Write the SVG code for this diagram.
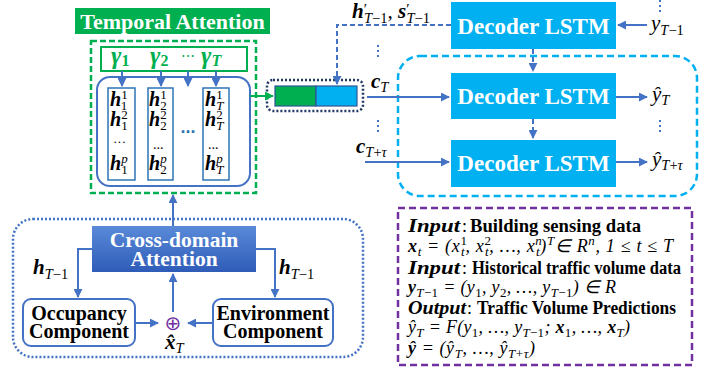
<svg xmlns="http://www.w3.org/2000/svg" width="715" height="373" viewBox="0 0 715 373">
<style>
.ser{font-family:"Liberation Serif","Times New Roman",serif}
.wb{font-family:"Liberation Serif",serif;font-weight:bold;fill:#fff}
.bk{font-family:"Liberation Serif",serif;font-weight:bold;fill:#000}
.m{font-family:"Liberation Serif",serif;font-style:italic;fill:#000}
.bi{font-weight:bold;font-style:italic}
.n{font-style:normal}
.conn{stroke:#4472C4;stroke-width:2;fill:none}
.dash{stroke-dasharray:5,3}
.sub{font-size:13px}
.lab .sub{font-size:14.5px}
</style>
<defs>
<marker id="ab" viewBox="0 0 10 10" refX="9" refY="5" markerWidth="4.5" markerHeight="4.5" orient="auto"><path d="M0,0 L10,5 L0,10 z" fill="#4472C4"/></marker>
<marker id="ag" viewBox="0 0 10 10" refX="9" refY="5" markerWidth="4.5" markerHeight="4.5" orient="auto"><path d="M0,0 L10,5 L0,10 z" fill="#00B050"/></marker>
<linearGradient id="gcd" x1="0" y1="0" x2="0" y2="1"><stop offset="0" stop-color="#5A8AD8"/><stop offset="1" stop-color="#2E5CB8"/></linearGradient>
</defs>
<rect width="715" height="373" fill="#fff"/>

<!-- Temporal attention -->
<g id="temporal-title">
<rect x="75" y="8" width="195" height="26" fill="#00B050"/>
<text class="wb" x="172.5" y="29" font-size="22" text-anchor="middle">Temporal Attention</text>
</g>
<g id="temporal-attention">
<rect x="91" y="41" width="165" height="152" fill="none" stroke="#00B050" stroke-width="2.5" stroke-dasharray="6,3"/>
</g>
<g id="gamma" class="ser" fill="#00B050" font-weight="bold">
<rect x="101" y="47" width="146" height="24" fill="none" stroke="#00B050" stroke-width="2"/>
<text x="111" y="64" font-size="25" font-style="italic">γ<tspan font-size="16" font-style="normal" dy="2">1</tspan></text>
<text x="150" y="64" font-size="25" font-style="italic">γ<tspan font-size="16" font-style="normal" dy="2">2</tspan></text>
<text x="181" y="61" font-size="14" font-weight="normal" fill="#00B050">⋯</text>
<text x="201" y="64" font-size="25" font-style="italic">γ<tspan font-size="16" dy="2">T</tspan></text>
</g>
<g id="hidden-states">
<rect x="97" y="77" width="153" height="109" rx="13" fill="none" stroke="#4472C4" stroke-width="2"/>
<rect x="108" y="88" width="27" height="92" fill="#fff" stroke="#2E75B6" stroke-width="1.5"/>
<rect x="148" y="88" width="25" height="92" fill="#fff" stroke="#2E75B6" stroke-width="1.5"/>
<rect x="203" y="88" width="26" height="92" fill="#fff" stroke="#2E75B6" stroke-width="1.5"/>
<g class="m" font-size="20">
<text x="110" y="106"><tspan class="bi">h</tspan><tspan class="n sub" dy="-7">1</tspan><tspan class="n sub" dx="-6.5" dy="11">1</tspan></text>
<text x="110" y="126"><tspan class="bi">h</tspan><tspan class="n sub" dy="-7">2</tspan><tspan class="n sub" dx="-6.5" dy="11">1</tspan></text>
<text x="113" y="146" font-size="13" class="n">···</text>
<text x="110" y="170"><tspan class="bi">h</tspan><tspan class="sub" dy="-7">p</tspan><tspan class="n sub" dx="-6.5" dy="11">1</tspan></text>

<text x="149" y="106"><tspan class="bi">h</tspan><tspan class="n sub" dy="-7">1</tspan><tspan class="n sub" dx="-6.5" dy="11">2</tspan></text>
<text x="149" y="126"><tspan class="bi">h</tspan><tspan class="n sub" dy="-7">2</tspan><tspan class="n sub" dx="-6.5" dy="11">2</tspan></text>
<text x="153" y="149" font-size="14" class="n">...</text>
<text x="149" y="170"><tspan class="bi">h</tspan><tspan class="sub" dy="-7">p</tspan><tspan class="n sub" dx="-6.5" dy="11">2</tspan></text>

<text x="205" y="106"><tspan class="bi">h</tspan><tspan class="n sub" dy="-7">1</tspan><tspan class="sub" dx="-6.5" dy="11">T</tspan></text>
<text x="205" y="126"><tspan class="bi">h</tspan><tspan class="n sub" dy="-7">2</tspan><tspan class="sub" dx="-6.5" dy="11">T</tspan></text>
<text x="208" y="149" font-size="14" class="n">...</text>
<text x="205" y="170"><tspan class="bi">h</tspan><tspan class="sub" dy="-7">p</tspan><tspan class="sub" dx="-6.5" dy="11">T</tspan></text>
</g>
<text x="188" y="133" font-family="Liberation Sans,sans-serif" font-size="18" font-weight="bold" fill="#2E75B6" text-anchor="middle">...</text>
</g>

<!-- context vector -->
<g id="context-vector">
<rect x="267" y="80" width="96" height="31" rx="6" fill="none" stroke="#203864" stroke-width="2.5" stroke-dasharray="2,2"/>
<rect x="275" y="86" width="41" height="20" fill="#00B050" stroke="#2F5597" stroke-width="1.2"/>
<rect x="316" y="86" width="41" height="20" fill="#00B0F0" stroke="#2F5597" stroke-width="1.2"/>
</g>

<!-- Decoders -->
<g id="decoder-group">
<rect x="398" y="56" width="299" height="140" rx="22" fill="none" stroke="#00B0F0" stroke-width="2.5" stroke-dasharray="7,4"/>
</g>
<g id="decoder1">
<rect x="451" y="2" width="165" height="47" fill="#00B0F0"/>
<text class="wb" x="533.5" y="34" font-size="23" text-anchor="middle">Decoder LSTM</text>
</g>
<g id="decoder2">
<rect x="451" y="73" width="165" height="46" fill="#00B0F0"/>
<text class="wb" x="533.5" y="104" font-size="23" text-anchor="middle">Decoder LSTM</text>
</g>
<g id="decoder3">
<rect x="451" y="140" width="165" height="47" fill="#00B0F0"/>
<text class="wb" x="533.5" y="171" font-size="23" text-anchor="middle">Decoder LSTM</text>
</g>

<!-- Cross-domain -->
<g id="cross-domain-group">
<rect x="13" y="219" width="350" height="138" rx="20" fill="none" stroke="#4472C4" stroke-width="2.5" stroke-dasharray="2,2"/>
</g>
<g id="cross-domain">
<rect x="92" y="226" width="164" height="46" fill="url(#gcd)"/>
<text class="wb" x="174" y="247" font-size="21.5" text-anchor="middle">Cross-domain</text>
<text class="wb" x="174" y="266" font-size="21.5" text-anchor="middle">Attention</text>
</g>
<g id="occupancy">
<rect x="23" y="299" width="112" height="47" rx="8" fill="#fff" stroke="#4472C4" stroke-width="2"/>
<text class="bk" x="79" y="320" font-size="20" text-anchor="middle">Occupancy</text>
<text class="bk" x="79" y="338" font-size="20" text-anchor="middle">Component</text>
</g>
<g id="environment">
<rect x="213" y="299" width="120" height="47" rx="8" fill="#fff" stroke="#4472C4" stroke-width="2"/>
<text class="bk" x="273" y="320" font-size="20" text-anchor="middle">Environment</text>
<text class="bk" x="273" y="338" font-size="20" text-anchor="middle">Component</text>
</g>
<g id="concat">
<text x="173" y="330" font-family="DejaVu Sans,sans-serif" font-size="20" fill="#7030A0" text-anchor="middle">⊕</text>
</g>

<!-- connectors -->
<g id="connectors">
<path class="conn" d="M122,71 V86" marker-end="url(#ab)"/>
<path class="conn" d="M161,71 V86" marker-end="url(#ab)"/>
<path class="conn" d="M188,71 V86" marker-end="url(#ab)"/>
<path class="conn" d="M216,71 V86" marker-end="url(#ab)"/>
<path d="M250,96 H273" stroke="#00B050" stroke-width="2" fill="none" marker-end="url(#ag)"/>
<path class="conn" d="M173,226 V195" marker-end="url(#ab)"/>
<path class="conn" d="M92,249 H78 V297" marker-end="url(#ab)"/>
<path class="conn" d="M256,249 H275 V297" marker-end="url(#ab)"/>
<path class="conn" d="M135,323 H158" marker-end="url(#ab)"/>
<path class="conn" d="M213,323 H188" marker-end="url(#ab)"/>
<path class="conn" d="M173,312 V274" marker-end="url(#ab)"/>
<path class="conn dash" d="M451,25 H337 V84" marker-end="url(#ab)"/>
<path class="conn" d="M647,25 H618" marker-end="url(#ab)"/>
<path class="conn dash" d="M533,49 V71" marker-end="url(#ab)"/>
<path class="conn dash" d="M533,119 V138" marker-end="url(#ab)"/>
<path class="conn" d="M367,97 H449" marker-end="url(#ab)"/>
<path class="conn" d="M365,162 H449" marker-end="url(#ab)"/>
<path class="conn" d="M616,97 H647" marker-end="url(#ab)"/>
<path class="conn" d="M616,162 H647" marker-end="url(#ab)"/>
<path d="M660,0 V12 M378,45 V60 M378,120 V135 M660,120 V135" stroke="#4472C4" stroke-width="2" stroke-dasharray="2,3"/>
</g>

<!-- labels -->
<g id="labels" class="m lab" font-size="21">
<text x="352" y="18"><tspan class="bi">h</tspan><tspan class="n" font-size="15" dy="-4">′</tspan><tspan class="sub" dx="-3" dy="9">T</tspan><tspan class="n sub">−1</tspan><tspan dy="-5">, </tspan><tspan class="bi">s</tspan><tspan class="n" font-size="15" dy="-4">′</tspan><tspan class="sub" dx="-3" dy="9">T</tspan><tspan class="n sub">−1</tspan></text>
<text x="651" y="30">y<tspan class="sub" dy="5">T</tspan><tspan class="n sub">−1</tspan></text>
<text x="371" y="88"><tspan class="bi">c</tspan><tspan class="sub" dy="4">T</tspan></text>
<text x="356" y="153"><tspan class="bi">c</tspan><tspan class="sub" dy="4">T</tspan><tspan class="n sub">+</tspan><tspan class="sub">τ</tspan></text>
<text x="652" y="101">ŷ<tspan class="sub" dy="4">T</tspan></text>
<text x="652" y="166">ŷ<tspan class="sub" dy="4">T</tspan><tspan class="n sub">+</tspan><tspan class="sub">τ</tspan></text>
<text x="33" y="274"><tspan class="bi">h</tspan><tspan class="sub" dy="5">T</tspan><tspan class="n sub">−1</tspan></text>
<text x="279" y="274"><tspan class="bi">h</tspan><tspan class="sub" dy="5">T</tspan><tspan class="n sub">−1</tspan></text>
<text x="165" y="349"><tspan class="bi">x̂</tspan><tspan class="sub" dy="4">T</tspan></text>
</g>

<!-- info box -->
<g id="info">
<rect x="398" y="208" width="294" height="157" fill="none" stroke="#7030A0" stroke-width="2.5" stroke-dasharray="7,4"/>
<g class="m" font-size="18">
<text x="408" y="232" class="bi" textLength="52" lengthAdjust="spacingAndGlyphs">Input</text>
<text x="462" y="232" class="n">:</text>
<text x="470" y="232" class="n" font-weight="bold" textLength="171" lengthAdjust="spacingAndGlyphs">Building sensing data</text>

<text x="408" y="252" textLength="265" lengthAdjust="spacing"><tspan class="bi">x</tspan><tspan class="sub" dy="4">t</tspan><tspan dy="-4"> = (x</tspan><tspan class="n sub" dy="-7">1</tspan><tspan class="sub" dx="-6.5" dy="11">t</tspan><tspan dy="-4">, x</tspan><tspan class="n sub" dy="-7">2</tspan><tspan class="sub" dx="-6.5" dy="11">t</tspan><tspan dy="-4">, …, x</tspan><tspan class="sub" dy="-7">n</tspan><tspan class="sub" dx="-6.5" dy="11">t</tspan><tspan dy="-4">)</tspan><tspan class="sub" dy="-7">T</tspan><tspan dy="7">∈ R</tspan><tspan class="sub" dy="-7">n</tspan><tspan dy="7">, 1 ≤ t ≤ T</tspan></text>

<text x="408" y="274" class="bi" textLength="52" lengthAdjust="spacingAndGlyphs">Input</text>
<text x="462" y="274" class="n">:</text>
<text x="472" y="274" class="n" font-weight="bold" textLength="209" lengthAdjust="spacingAndGlyphs">Historical traffic volume data</text>

<text x="408" y="293" textLength="208" lengthAdjust="spacing"><tspan class="bi">y</tspan><tspan class="sub" dy="4">T</tspan><tspan class="n sub">−1</tspan><tspan dy="-4"> = (y</tspan><tspan class="n sub" dy="4">1</tspan><tspan dy="-4">, y</tspan><tspan class="n sub" dy="4">2</tspan><tspan dy="-4">, …, y</tspan><tspan class="sub" dy="4">T</tspan><tspan class="n sub">−1</tspan><tspan dy="-4">) ∈ R</tspan></text>

<text x="408" y="314" class="bi" textLength="58" lengthAdjust="spacingAndGlyphs">Output</text>
<text x="467" y="314" class="n">:</text>
<text x="477" y="314" class="n" font-weight="bold" textLength="199" lengthAdjust="spacingAndGlyphs">Traffic Volume Predictions</text>

<text x="408" y="333" textLength="222" lengthAdjust="spacing">ŷ<tspan class="sub" dy="4">T</tspan><tspan dy="-4"> = F(y</tspan><tspan class="n sub" dy="4">1</tspan><tspan dy="-4">, …, y</tspan><tspan class="sub" dy="4">T</tspan><tspan class="n sub">−1</tspan><tspan dy="-4">; </tspan><tspan class="bi">x</tspan><tspan class="n sub" dy="4">1</tspan><tspan dy="-4">, …, </tspan><tspan class="bi">x</tspan><tspan class="sub" dy="4">T</tspan><tspan dy="-4">)</tspan></text>

<text x="408" y="354" textLength="127" lengthAdjust="spacing"><tspan class="bi">ŷ</tspan> = (ŷ<tspan class="sub" dy="4">T</tspan><tspan dy="-4">, …, ŷ</tspan><tspan class="sub" dy="4">T</tspan><tspan class="n sub">+</tspan><tspan class="sub">τ</tspan><tspan dy="-4">)</tspan></text>
</g>
</g>
</svg>
